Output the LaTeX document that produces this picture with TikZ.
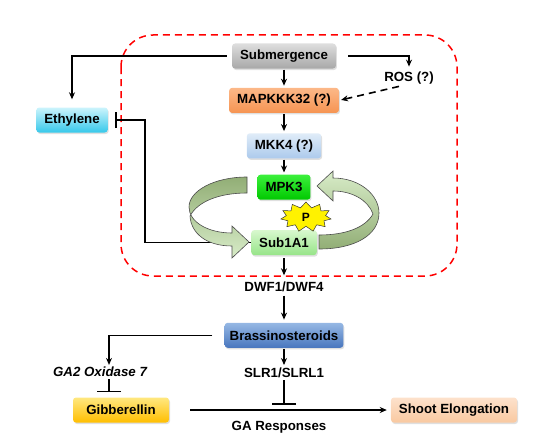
\documentclass[tikz,border=0pt]{standalone}
\usepackage{fontspec}
\setmainfont{Liberation Sans}
\usetikzlibrary{positioning,arrows.meta,shapes.symbols,shadows}

\definecolor{grayT}{RGB}{222,222,222}
\definecolor{grayB}{RGB}{168,168,168}
\definecolor{orngT}{RGB}{252,184,136}
\definecolor{orngB}{RGB}{246,148,82}
\definecolor{mkkT}{RGB}{224,236,248}
\definecolor{mkkB}{RGB}{172,202,236}
\definecolor{mpkT}{RGB}{60,240,60}
\definecolor{mpkB}{RGB}{0,200,0}
\definecolor{subT}{RGB}{216,248,206}
\definecolor{subB}{RGB}{150,228,136}
\definecolor{ethT}{RGB}{204,244,252}
\definecolor{ethB}{RGB}{54,200,234}
\definecolor{braT}{RGB}{150,184,228}
\definecolor{braB}{RGB}{72,118,190}
\definecolor{gibT}{RGB}{255,232,128}
\definecolor{gibB}{RGB}{255,190,0}
\definecolor{shtT}{RGB}{253,226,204}
\definecolor{shtB}{RGB}{249,200,160}
\definecolor{ringdark}{RGB}{146,174,118}
\definecolor{ringlight}{RGB}{216,236,200}

\tikzset{
  box/.style={rounded corners=3pt, minimum height=25pt, inner xsep=8pt,
    font=\bfseries\fontsize{13.3}{15}\selectfont,
    drop shadow={shadow xshift=1pt, shadow yshift=-1.5pt, opacity=0.25}},
  lbl/.style={font=\bfseries\fontsize{13.3}{15}\selectfont, inner sep=2pt},
  act/.style={-{Stealth[length=7pt,width=6pt]}, line width=1.6pt},
  inh/.style={-{Bar[width=24pt]}, line width=1.6pt},
  ring/.style={draw=black!70, line width=0.6pt},
}

\begin{document}
\begin{tikzpicture}[x=1pt,y=-1pt]
\useasboundingbox (0,0) rectangle (553,436);

% region of submergence response
\draw[red, line width=1.5pt, dash pattern=on 7pt off 5pt, rounded corners=32pt]
  (121,35) rectangle (457,276);

% main cascade
\node[box, top color=grayT, bottom color=grayB] (sub) at (284,56) {Submergence};
\node[box, top color=orngT, bottom color=orngB, below = 19pt of sub] (mapk) {MAPKKK32 (?)};
\node[box, top color=mkkT, bottom color=mkkB, below = 20pt of mapk] (mkk) {MKK4 (?)};
\node[box, top color=mpkT, bottom color=mpkB, below = 16pt of mkk] (mpk) {MPK3};
\node[box, top color=subT, bottom color=subB, below = 30pt of mpk] (sub1) {Sub1A1};
\node[lbl, below = 24pt of sub1] (dwf) {DWF1/DWF4};
\node[box, top color=braT, bottom color=braB, inner xsep=5pt, below = 29pt of dwf] (bra) {Brassinosteroids};
\node[lbl, below = 18pt of bra] (slr) {SLR1/SLRL1};

% side nodes
\node[box, top color=ethT, bottom color=ethB] (eth) at (72,120) {Ethylene};
\node[lbl] (ros) at (409,78) {ROS (?)};
\node[lbl, font=\bfseries\itshape\fontsize{13.3}{15}\selectfont] (gaox) at (100,372) {GA2 Oxidase 7};
\node[box, top color=gibT, bottom color=gibB, minimum width=96pt] (gib) at (121,410) {Gibberellin};
\node[box, top color=shtT, bottom color=shtB] (shoot) at (454,410) {Shoot Elongation};
\node[lbl] (gares) at (279,427) {GA Responses};

% Connect nodes
\draw[act, shorten >=2pt, shorten <=1pt] (sub) -- (mapk);
\draw[act, shorten >=2pt, shorten <=1pt] (mapk) -- (mkk);
\draw[act, shorten >=2pt, shorten <=1pt] (mkk) -- (mpk);
\draw[act, shorten >=4pt, shorten <=3pt] (sub1) -- (dwf);
\draw[act, shorten >=3pt, shorten <=2pt] (dwf) -- (bra);
\draw[act, shorten >=1pt, shorten <=1pt] (bra) -- (slr);
\draw[act, shorten >=8pt] ([xshift=-5pt]sub.west) -| (eth.north);
\draw[act, shorten >=3pt] ([xshift=12pt]sub.east) -| (ros.north);
\draw[act, dashed, dash pattern=on 7pt off 5pt, shorten >=2pt] ([xshift=-10pt]ros.south) -- (mapk.east);
\draw[inh, -{Bar[width=16pt]}] (sub1.west) -| ([xshift=37pt]eth.east) -- ([xshift=7pt]eth.east);
\draw[act] ([xshift=-12pt]bra.west) -| ([xshift=9pt]gaox.north);
\draw[inh, shorten >=5pt] ([xshift=9pt]gaox.south) -- ([xshift=9pt]gaox.south |- gib.north);
\draw[act] ([xshift=21pt]gib.east) -- ([xshift=-4pt]shoot.west);
\draw[inh] (slr.south) -- ([yshift=5pt]slr.south |- gib.east);

% feedback loop arrows
\draw[ring, top color=ringdark, bottom color=ringlight]
  (247,177) .. controls (214,177) and (189,191) .. (189,207)
  .. controls (189,222) and (208,233) .. (232,233)
  -- (232,226) -- (249,242) -- (232,258) -- (232,246)
  .. controls (206,246) and (191,233) .. (190,216)
  .. controls (198,201) and (220,193) .. (247,193) -- cycle;
\draw[ring, top color=ringlight, bottom color=ringdark]
  (319,249) .. controls (355,249) and (379,235) .. (379,213)
  .. controls (379,195) and (360,178) .. (333,178)
  -- (333,171) -- (317,186) -- (333,201) -- (333,191)
  .. controls (352,191) and (368,200) .. (373,214)
  .. controls (365,228) and (345,235) .. (319,235) -- cycle;

% phosphorylation
\node[starburst, draw=black!80, fill=yellow, line width=0.5pt, starburst points=11,
  starburst point height=5.5pt, random starburst=0, inner xsep=10pt, inner ysep=2.5pt,
  font=\bfseries\fontsize{12}{14}\selectfont] (p) at ([xshift=-11pt,yshift=13pt]sub1.north east) {P};
\end{tikzpicture}
\end{document}
